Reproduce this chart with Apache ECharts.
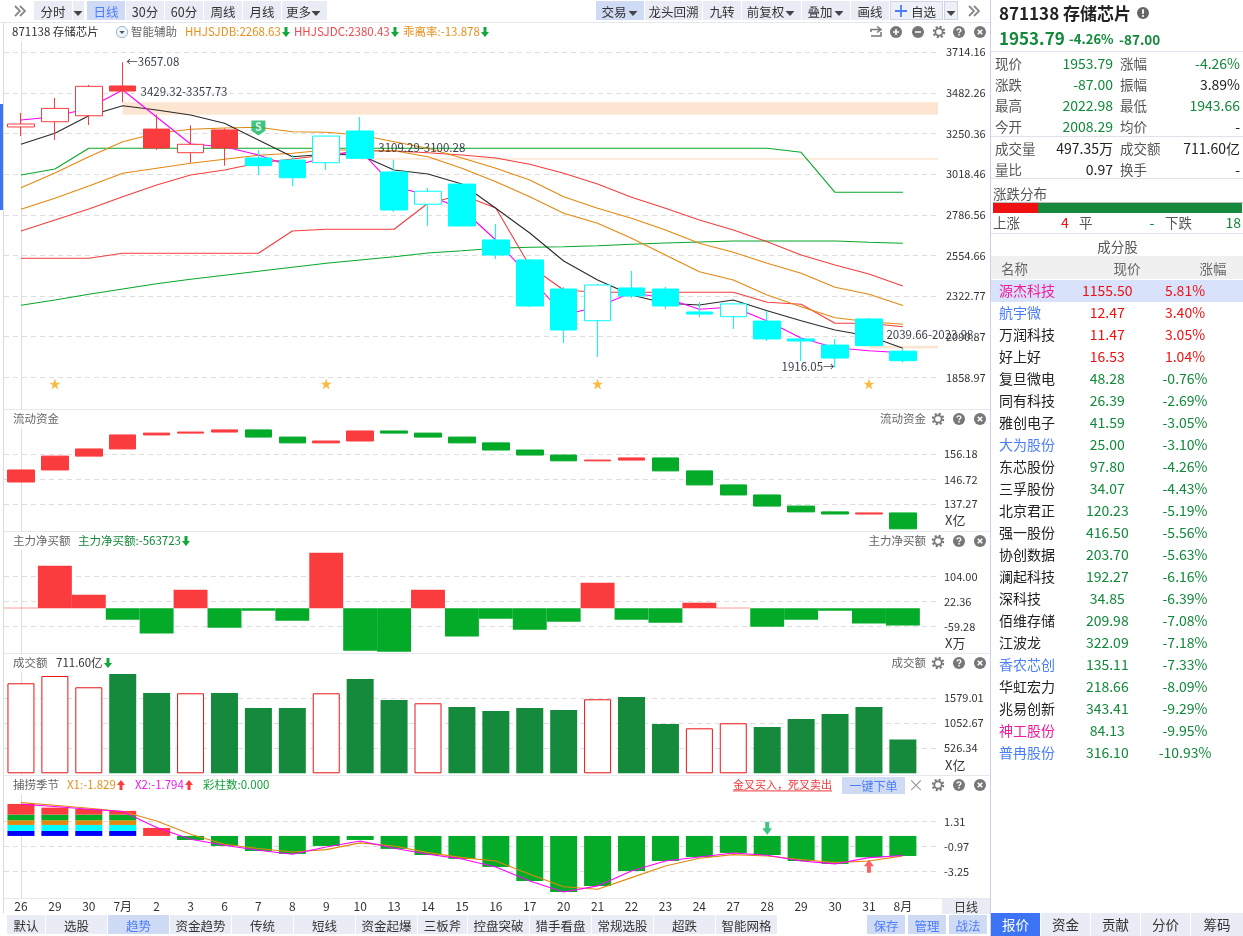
<!DOCTYPE html>
<html><head><meta charset="utf-8">
<script src="https://cdn.jsdelivr.net/npm/echarts@6/dist/echarts.min.js"></script>
<style>
html,body{margin:0;padding:0;background:#fff;width:1243px;height:936px;overflow:hidden;font-family:"Noto Sans CJK SC","Noto Sans",sans-serif}
#c{position:absolute;left:0;top:0;width:1243px;height:936px}
#ui{position:absolute;left:0;top:0;width:1243px;height:936px;pointer-events:none}
#ui div{position:absolute;white-space:nowrap;box-sizing:border-box}
#ui svg{vertical-align:-1px}
</style></head><body>
<div id="c"></div><div id="ui"></div>
<script>
// ---------- categories and tick labels ----------
const categories=['26','29','30','7月','2','3','6','7','8','9','10','13','14','15','16','17','20','21','22','23','24','27','28','29','30','31','8月'];
const priceTicks=[1858.97,2090.87,2322.77,2554.66,2786.56,3018.46,3250.36,3482.26,3714.16];
const flowTicks=[137.27,146.72,156.18];
const netBuyTicks=[-59.28,22.36,104.00];
const amountTicks=[526.34,1052.67,1579.01];
const seasonTicks=[-3.25,-0.97,1.31];
// ---------- candles ----------
const candleOpen=[3288,3318,3352,3522,3276,3141,3271,3111,3099,3084,3265,3031,2847,2962,2643,2529,2363,2182,2369,2363,2232,2205,2180,2078,2043,2192,2008.29];
const candleClose=[3305,3394,3520,3493,3168,3189,3168,3067,2998,3236,3109.29,2814,2921,2723,2557,2266,2129,2386,2323,2266,2220,2278,2078,2066,1969,2039.66,1953.79];
const candleLow=[3236,3214,3299,3429.32,3157,3084,3067,3014,2951,3042,3109.29,2803,2723,2723,2534,2260,2055,1975,2312,2249,2203,2135,2066,1952,1916.05,2039.66,1943.66];
const candleHigh=[3368,3453,3528,3657.08,3357.73,3297,3280,3156,3128,3236,3345,3100.28,2940,2962,2734,2534,2375,2392,2466,2375,2289,2278,2238,2087,2078,2198,2022.98];
const candleTone=['r','r','r','r','r','r','r','c','c','c','c','c','c','c','c','c','c','c','c','c','c','c','c','c','c','c','c'];
// ---------- main overlays ----------
const magentaLine=[3327.7,3346.6,3396.2,3499,3344.9,3190.7,3175.3,3127.9,3061.1,3118.2,3156.5,2947,2899.6,2819.7,2642.8,2431.6,2214.7,2262.1,2342,2311.7,2247.2,2260.3,2180.4,2083.4,2028,2010.9,1999.5];
const blackLine=[3189,3251.8,3352.3,3409.4,3384.8,3356.3,3308.9,3213.6,3118.2,3131.9,3127.9,3042.3,3019.5,2962.4,2823.7,2682.7,2522.9,2414.5,2328.8,2281.5,2271.8,2300.3,2239.2,2182.1,2129,2094.8,2024.6];
const greenTop=[3013.8,3048,3166.2,3166.2,3166.2,3166.2,3166.2,3166.2,3166.2,3166.2,3166.2,3166.2,3166.2,3166.2,3166.2,3166.2,3166.2,3166.2,3166.2,3166.2,3166.2,3166.2,3166.2,3143.4,2915.1,2915.1,2915.1];
const greenLow=[2270.1,2300.3,2332.8,2363.1,2393.4,2418.4,2441.3,2464.1,2486.9,2509.8,2528.6,2547.4,2568.6,2581.7,2595.4,2601.1,2604.5,2610.2,2618.2,2625.7,2631.4,2637.1,2637.1,2637.1,2637.1,2629.6,2623.9];
const redUpper=[2694.2,2756.9,2819.7,2889.9,2956.7,3013.8,3042.3,3082.3,3105.1,3127.9,3150.8,3150.8,3141.1,3127.9,3110.8,3074.9,3023.5,2962.4,2886.5,2823.7,2756.9,2699.9,2633,2557.2,2500,2448.7,2380.43];
const redStep=[2538.3,2538.3,2538.3,2566.8,2566.8,2566.8,2566.8,2566.8,2694.2,2703.9,2703.9,2703.9,2852.3,2899.6,2825.4,2494.4,2357.4,2344.2,2344.2,2344.2,2344.2,2344.2,2287.2,2275.8,2167.3,2167.3,2147.8];
const orangeUpper=[2941.3,3025.2,3118.2,3203.8,3251.8,3274.6,3282,3286,3260.9,3257.5,3242.1,3203.8,3166.2,3110.8,3052,2985.3,2889.9,2823.7,2766.6,2699.9,2623.9,2572.6,2509.8,2452.7,2372.8,2332.8,2268.63];
const orangeLower=[2818,2880.8,2951,3023.5,3052,3080.6,3103.4,3126.2,3137.7,3156.5,3156.5,3152.5,3118.2,3052,2975.6,2889.9,2795.2,2738.1,2652.5,2557.2,2461.8,2414.5,2328.8,2262,2199.3,2176.5,2161.6];
const gapBands=[[3,3429.32,3357.73],[10,3109.29,3100.28],[25,2039.66,2023.98]];
const starDays=[1,9,17,25];
// ---------- sub panels ----------
const flowStart=145.7;
const flowClose=[150.25,155.5,158.2,163.5,164.2,164.6,165.4,162.7,160.5,161.2,165,164.2,162.7,160.5,157.8,155.9,153.7,154.0,154.8,149.9,144.6,140.8,136.6,134.4,133.6,134,128];
const netBuy=[2.2,140.4,45,-37.3,-83.3,61.4,-63.6,-7.7,-40.6,183.1,-139.3,-142.6,61.4,-93.2,-34,-70.2,-43.9,84.4,-37.3,-47.2,18.6,2.2,-60.3,-37.3,-7.7,-50.4,-56.37];
const amount=[1895,2049,1811,2091,1691,1684,1691,1376,1376,1684,1986,1544,1474,1397,1312,1376,1333,1558,1607,1039,947,1053,975,1144,1249,1397,711.6];
const amountHollow=[1,1,1,0,0,1,0,0,0,1,0,0,1,0,0,0,0,1,0,0,1,1,0,0,0,0,0];
const seasonBlue=[0.46,0.46,0.46,0.46];
const seasonCyan=[0.55,0.55,0.55,0.55];
const seasonOrange=[0.43,0.43,0.43,0.43];
const seasonGreen=[0.52,0.52,0.52,0.52];
const seasonRed=[0.98,0.64,0.52,0.34,0.735];
const seasonNeg=[null,null,null,null,null,-0.37,-0.92,-1.38,-1.65,-0.92,-0.37,-1.19,-1.75,-2.11,-2.85,-4.14,-5.15,-4.6,-3.22,-2.30,-1.93,-1.56,-1.75,-2.30,-2.57,-1.96,-1.84];
const x1Line=[3.06,2.82,2.54,2.24,1.38,0.15,-0.77,-1.16,-1.47,-1.26,-0.64,-0.92,-1.53,-1.99,-2.30,-3.52,-4.66,-4.90,-3.83,-2.76,-2.05,-1.72,-1.84,-2.17,-2.45,-2.30,-1.829];
const x2Line=[2.91,2.70,2.45,2.24,0.77,-0.31,-0.86,-1.32,-1.68,-1.01,-0.46,-1.13,-1.68,-2.11,-2.85,-4.14,-5.15,-4.59,-3.22,-2.30,-1.93,-1.56,-1.78,-2.30,-2.57,-1.99,-1.794];
// ---------- constituent table ----------
const stockNames=['源杰科技','航宇微','万润科技','好上好','复旦微电','同有科技','雅创电子','大为股份','东芯股份','三孚股份','北京君正','强一股份','协创数据','澜起科技','深科技','佰维存储','江波龙','香农芯创','华虹宏力','兆易创新','神工股份','普冉股份'];
const stockPrices=['1155.50','12.47','11.47','16.53','48.28','26.39','41.59','25.00','97.80','34.07','120.23','416.50','203.70','192.27','34.85','209.98','322.09','135.11','218.66','343.41','84.13','316.10'];
const stockPcts=['5.81%','3.40%','3.05%','1.04%','-0.76%','-2.69%','-3.05%','-3.10%','-4.26%','-4.43%','-5.19%','-5.56%','-5.63%','-6.16%','-6.39%','-7.08%','-7.18%','-7.33%','-8.09%','-9.29%','-9.95%','-10.93%'];
const stockNameTone=['p','b','','','','','','b','','','','','','','','','','b','','','p','b'];

const RED='#fb3c3e',GRN='#03ab29',CY='#00ffff',FONT='"Noto Sans CJK SC","Noto Sans",sans-serif';
const panels=[
 {top:42,bottom:409,min:1678.1,max:3773,ticks:priceTicks,m:5,o:3},
 {top:429,bottom:531,min:127.17,max:165.75,ticks:flowTicks,m:3,o:3},
 {top:551,bottom:653,min:-147.1,max:188.6,ticks:netBuyTicks,m:3,o:3},
 {top:673,bottom:775,min:-36,max:2111.6,ticks:amountTicks,m:3,o:3},
 {top:795,bottom:898,min:-5.70,max:3.76,ticks:seasonTicks,m:3,o:3}];
const grid=[],xAxis=[],yAxis=[];
panels.forEach((p,i)=>{
 grid.push({left:4,width:915.84,top:p.top,height:p.bottom-p.top});
 xAxis.push({gridIndex:i,type:'category',data:categories,show:i===4,axisLine:{show:false},axisTick:{show:false},splitLine:{show:false},
   axisLabel:{show:i===4,color:'#333',fontSize:12,margin:2,fontFamily:FONT,interval:0}});
 yAxis.push({gridIndex:i,type:'value',min:p.min,max:p.max,show:false,splitLine:{show:false}});
});
panels.forEach((p,i)=>{
 grid.push({left:4,width:934,top:p.top,height:p.bottom-p.top});
 xAxis.push({gridIndex:5+i,type:'value',min:-0.5,max:27.035,show:false,splitLine:{show:false}});
 yAxis.push({gridIndex:5+i,type:'value',position:'right',offset:p.o,min:p.min,max:p.max,
   axisLine:{show:true,lineStyle:{color:'#dcdde2'}},
   axisTick:{show:false,customValues:p.ticks},
   axisLabel:{customValues:p.ticks,formatter:v=>v.toFixed(2),color:'#333',fontSize:11,margin:p.m,fontFamily:FONT,showMinLabel:true,showMaxLabel:true},
   splitLine:{show:true,lineStyle:{color:'#dedede',type:[5,4],width:1}}});
});
const ln=(name,data,color,xi=0)=>({name,type:'line',xAxisIndex:xi,yAxisIndex:xi,data,symbol:'none',z:2,animation:false,lineStyle:{color,width:1.1}});
const candles=candleOpen.map((o,i)=>{
 const c=candleClose[i],t=candleTone[i]==='r'?RED:CY,fill=c>o?'#fff':t;
 return {value:[o,c,candleLow[i],candleHigh[i]],itemStyle:{color:fill,color0:fill,borderColor:t,borderColor0:t,borderWidth:1}};
});
const note=(xv,yv,text,pos)=>({coord:[xv,yv],value:text,symbol:'circle',symbolSize:1,itemStyle:{color:'rgba(0,0,0,0)'},label:{show:true,formatter:text,position:pos||'right',distance:0,color:'#3a3f4a',fontSize:11.5,fontFamily:FONT}});
let prev=flowStart;
const flowData=flowClose.map(c=>{const d=[prev,c,Math.min(prev,c),Math.max(prev,c)];prev=c;return d;});
const starPath='path://M50 0L62 36H100L69 58L81 95L50 72L19 95L31 58L0 36H38Z';
const tagPath='path://M0 0H14V13L7 19L0 13Z';
const downPath='path://M3 0H7V6H10L5 12L0 6H3Z';
const upPath='path://M5 0L10 6H7V12H3V6H0Z';
const bar=(name,data,color)=>({name,type:'bar',xAxisIndex:4,yAxisIndex:4,stack:'s',barWidth:27,data,itemStyle:{color},z:1,animation:false});
const series=[
 {name:'bands',type:'line',xAxisIndex:5,yAxisIndex:5,data:[],z:0,silent:true,
  markArea:{silent:true,itemStyle:{color:'#fde6d1'},data:gapBands.map(b=>[{xAxis:b[0],yAxis:b[1]},{xAxis:27.035,yAxis:b[2]}])}},
 ln('绿上',greenTop,'#08a82a'),ln('绿下',greenLow,'#08a82a'),ln('红上',redUpper,'#f43e3e'),ln('红阶',redStep,'#f43e3e'),
 ln('橙上',orangeUpper,'#e2880f'),ln('橙下',orangeLower,'#e2880f'),ln('黑',blackLine,'#2a2a2a'),ln('紫',magentaLine,'#ff00ff'),
 {name:'K',type:'candlestick',xAxisIndex:0,yAxisIndex:0,data:candles,barWidth:27,z:3,animation:false},
 {name:'星',type:'scatter',xAxisIndex:0,yAxisIndex:0,symbol:starPath,symbolSize:11,itemStyle:{color:'#f6a90f'},z:4,animation:false,
  data:starDays.map(d=>[d,1821])},
 {name:'S',type:'scatter',xAxisIndex:0,yAxisIndex:0,symbol:tagPath,symbolSize:[14,15],itemStyle:{color:'#10b560'},z:4,animation:false,
  data:[[7,3282]],label:{show:true,formatter:'S',color:'#fff',fontSize:11,fontWeight:'bold',position:'inside',offset:[0,-1]}},
 {name:'notes',type:'scatter',xAxisIndex:5,yAxisIndex:5,data:[],z:6,silent:true,
  markPoint:{silent:true,z:6,data:[note(3.09,3658.8,'←3657.08'),note(3.51,3487,'3429.32-3357.73'),note(10.52,3168,'3109.29-3100.28'),note(25.5,2102,'2039.66-2023.98'),note(24,1918,'1916.05→','left')]}},
 {name:'流动资金',type:'candlestick',xAxisIndex:1,yAxisIndex:1,data:flowData,barWidth:27,animation:false,
  itemStyle:{color:RED,color0:GRN,borderColor:RED,borderColor0:GRN,borderWidth:1}},
 {name:'主力净买额',type:'bar',xAxisIndex:2,yAxisIndex:2,barWidth:'100%',data:netBuy,animation:false,
  itemStyle:{color:p=>p.value>=0?RED:GRN}},
 {name:'成交额',type:'bar',xAxisIndex:3,yAxisIndex:3,barWidth:27,animation:false,
  data:amount.map((v,i)=>({value:v,itemStyle:amountHollow[i]?{color:'#fff',borderColor:'#e81414',borderWidth:1}:{color:'#158a3c'}}))},
 bar('蓝',seasonBlue,'#0000ff'),bar('青',seasonCyan,CY),bar('橙',seasonOrange,'#e2880f'),bar('绿',seasonGreen,GRN),bar('红',seasonRed,RED),bar('负',seasonNeg,GRN),
 ln('X1',x1Line,'#e2880f',4),ln('X2',x2Line,'#ff00ff',4),
 {name:'下箭头',type:'scatter',xAxisIndex:4,yAxisIndex:4,symbol:downPath,symbolSize:[10,13],itemStyle:{color:'#10b560'},data:[[22,0.7]],z:4,animation:false},
 {name:'上箭头',type:'scatter',xAxisIndex:4,yAxisIndex:4,symbol:upPath,symbolSize:[10,13],itemStyle:{color:RED},data:[[25,-2.78]],z:4,animation:false}
];
const chart=echarts.init(document.getElementById('c'),null,{renderer:'canvas'});
chart.setOption({animation:false,backgroundColor:'transparent',textStyle:{fontFamily:FONT},grid,xAxis,yAxis,series});

// ---------- page chrome ----------
const ui=document.getElementById('ui');
function box(x,y,w,h,bg,extra){const d=document.createElement('div');d.style.cssText=`left:${x}px;top:${y}px;width:${w}px;height:${h}px;background:${bg};${extra||''}`;ui.appendChild(d);return d;}
function T(x,y,html,color,size,extra,al){const d=document.createElement('div');const tx=al==='r'?'-100%':al==='c'?'-50%':'0';
 d.style.cssText=`left:${x}px;top:${y}px;transform:translate(${tx},-50%);color:${color||'#333'};font-size:${size||12}px;line-height:1.2;${extra||''}`;d.innerHTML=html;ui.appendChild(d);return d;}
const tri='<svg width="9" height="5"><path d="M0 0H9L4.5 5Z" fill="#444"/></svg>';
function btn(x0,x1,label,active,caret,y0,y1,blue){const a=y0===undefined?1:y0,b=y1===undefined?20:y1;
 box(x0,a,x1-x0,b-a,active?'#cfdaf4':'#e9ecf5');
 const c=blue||active&&!caret?'#4a7dfc':'#333';
 T((x0+x1)/2-(caret?6:0),(a+b)/2,label,c,12.5,'',"c");
 if(caret)T(x1-11,(a+b)/2,tri,'#333',10,'','c');}
const dn=c=>`<svg width="8" height="10" style="margin-left:1px"><path d="M2.5 0H5.5V5H8L4 10L0 5H2.5Z" fill="${c||'#10a83a'}"/></svg>`;
const up=c=>`<svg width="8" height="10" style="margin-left:1px"><path d="M4 0L8 5H5.5V10H2.5V5H0Z" fill="${c||'#fb3c3e'}"/></svg>`;
const ICON={
 gear:'<svg width="13" height="13" viewBox="0 0 14 14"><circle cx="7" cy="7" r="5.6" fill="none" stroke="#777" stroke-width="2.4" stroke-dasharray="2.2 2.2"/><circle cx="7" cy="7" r="3.9" fill="none" stroke="#777" stroke-width="1.8"/></svg>',
 help:'<svg width="13" height="13" viewBox="0 0 14 14"><circle cx="7" cy="7" r="6.5" fill="#777"/><path d="M5 5.4C5 3 9 3 9 5.4C9 6.8 7 6.8 7 8.3" fill="none" stroke="#fff" stroke-width="1.5"/><rect x="6.2" y="9.2" width="1.6" height="1.6" fill="#fff"/></svg>',
 close:'<svg width="13" height="13" viewBox="0 0 14 14"><circle cx="7" cy="7" r="6.5" fill="#777"/><path d="M4.6 4.6L9.4 9.4M9.4 4.6L4.6 9.4" stroke="#fff" stroke-width="1.7"/></svg>',
 plus:'<svg width="13" height="13" viewBox="0 0 14 14"><circle cx="7" cy="7" r="6.5" fill="#777"/><path d="M3.8 7H10.2M7 3.8V10.2" stroke="#fff" stroke-width="1.7"/></svg>',
 minus:'<svg width="13" height="13" viewBox="0 0 14 14"><circle cx="7" cy="7" r="6.5" fill="#777"/><path d="M3.8 7H10.2" stroke="#fff" stroke-width="1.8"/></svg>',
 back:'<svg width="14" height="14"><path d="M12 7V11H2M8 1.5L12 4.5L8 7.5M12 4.5H2V7" fill="none" stroke="#777" stroke-width="1.5"/></svg>',
 dbl:'<svg width="12" height="12"><path d="M1 1L6 6L1 11M6 1L11 6L6 11" fill="none" stroke="#888" stroke-width="1.8"/></svg>'};
const ic=(x,y,k)=>T(x,y,ICON[k],'#777',12,'line-height:0','c');
// top toolbar
ic(20,10.5,'dbl');
btn(34,72,'分时');box(73,1,11,19,'#e9ecf5');T(78,10.5,tri,'#333',10,'','c');
btn(87,125,'日线',true);btn(126,164,'30分');btn(165,203,'60分');btn(204,242,'周线');btn(243,281,'月线');btn(282,327,'更多',false,true);
btn(596,644,'交易',true,true);btn(645,702,'龙头回溯');btn(703,741,'九转');btn(742,801,'前复权',false,true);btn(802,850,'叠加',false,true);btn(851,889,'画线');
box(890,1,53,19,'#eef0f8','border:1px solid #cfd4e6');T(901,10.5,'<svg width="12" height="12"><path d="M0 6H12M6 0V12" stroke="#4a7dfc" stroke-width="1.8"/></svg>','#333',12,'line-height:0','c');T(911,10.5,'自选','#333',12.5);
box(944,1,14,19,'#eef0f8','border:1px solid #cfd4e6');T(951,10.5,tri,'#333',10,'','c');ic(974,10.5,'dbl');
box(0,22,990,1,'#e6e8ee');
// left rail and panel rules
box(3,23,1,890,'#d9dbe2');box(0,104,3,106,'#3b74f5');
[409,531,653,775,898].forEach(y=>box(4,y,986,1,'#e6e8ee'));
box(990,0,1,936,'#c9d0e6');
// indicator titles
T(12,32,'871138 存储芯片','#333',11.5);
T(122,32,'<svg width="13" height="13"><circle cx="6.5" cy="6.5" r="5.7" fill="#eef4fb" stroke="#9db7cf"/><path d="M3.8 5.4H9.2L6.5 8.6Z" fill="#555"/></svg>','#555',12,'line-height:0','c');
T(131,32,'智能辅助','#666',11.5);
T(185,32,'HHJSJDB:2268.63'+dn(),'#e8901c',11.5);T(294,32,'HHJSJDC:2380.43'+dn(),'#f0494d',11.5);T(403,32,'乖离率:-13.878'+dn(),'#e8901c',11.5);
[['back',876],['plus',896],['minus',917.5],['gear',938.5],['help',959],['close',980]].forEach(a=>ic(a[1],32,a[0]));
[419,541,663,785].forEach(y=>{ic(938,y,'gear');ic(958.5,y,'help');ic(979.5,y,'close');});
T(13,419,'流动资金','#666',11.5);T(926,419,'流动资金','#666',11.5,'','r');
T(13,541,'主力净买额','#666',11.5);T(78,541,'主力净买额:-563723'+dn(),'#11893a',11.5);T(926,541,'主力净买额','#666',11.5,'','r');
T(13,663,'成交额','#666',11.5);T(56,663,'711.60亿'+dn(),'#333',11.5);T(926,663,'成交额','#666',11.5,'','r');
T(13,785,'捕捞季节','#666',11.5);T(67,785,'X1:-1.829'+up(),'#e8901c',11.5);T(135,785,'X2:-1.794'+up(),'#f01af0',11.5);T(203,785,'彩柱数:0.000','#11a03a',11.5);
T(733,785,'金叉买入，死叉卖出','#f0383a',11,'text-decoration:underline');
box(842,777,63,17,'#cfdaf4');T(873.5,785.5,'一键下单','#4a7dfc',12,'','c');T(916,785,'×','#999',16,'','c');
T(945,520,'X亿','#333',13);T(945,643,'X万','#333',13);T(945,765,'X亿','#333',13);
box(942,899,48,15,'#e9ecf5');T(966,906.5,'日线','#333',12,'','c');
// bottom tabs
[[7,45,'默认'],[46,107,'选股'],[108,169,'趋势',1],[170,231,'资金趋势'],[232,293,'传统'],[294,355,'短线'],[356,417,'资金起爆'],[418,467,'三板斧'],[468,529,'控盘突破'],[530,591,'猎手看盘'],[592,653,'常规选股'],[654,715,'超跌'],[716,777,'智能网格']].forEach(a=>btn(a[0],a[1],a[2],!!a[3],false,915,934));
[[867,905,'保存'],[908,946,'管理'],[949,987,'战法']].forEach(a=>btn(a[0],a[1],a[2],true,false,915,934));
// right column
const RG='#11893a',LAB='#555';
T(999,13,'871138 存储芯片','#222',17,'font-weight:700');
T(1143,13,'<svg width="13" height="13"><circle cx="6.5" cy="6.5" r="6" fill="#666"/><rect x="5.6" y="2.8" width="1.8" height="4.6" fill="#fff"/><rect x="5.6" y="8.6" width="1.8" height="1.8" fill="#fff"/></svg>','#666',12,'line-height:0','c');
T(999,38,'1953.79',RG,17,'font-weight:700');T(1069,39,'-4.26%',RG,13,'font-weight:700');T(1119,39,'-87.00',RG,13.5,'font-weight:700');
[51,136,178,233].forEach(y=>box(991,y,252,1,'#dfe2ea'));
const rows=[[62.5,'现价','1953.79',RG,'涨幅','-4.26%',RG],[84,'涨跌','-87.00',RG,'振幅','3.89%','#222'],[105,'最高','2022.98',RG,'最低','1943.66',RG],[126,'今开','2008.29',RG,'均价','-','#222'],[148,'成交量','497.35万','#222','成交额','711.60亿','#222'],[169,'量比','0.97','#222','换手','-','#222']];
rows.forEach(r=>{T(995,r[0],r[1],LAB,13.5);T(1113,r[0],r[2],r[3],14,'','r');T(1120,r[0],r[4],LAB,13.5);T(1240,r[0],r[5],r[6],14,'','r');});
T(993,192.5,'涨跌分布',LAB,13.5);box(993,202,250,1,'#bbb');box(993,203,45,10,'#ee1111');box(1038,203,204,10,'#158a3c');
T(993,221.5,'上涨',LAB,13.5);T(1065,221.5,'4','#f01010',14,'','c');T(1079,221.5,'平',LAB,13.5);T(1152,221.5,'-',RG,14,'','c');T(1165,221.5,'下跌',LAB,13.5);T(1241,221.5,'18',RG,14,'','r');
T(1117.5,245.5,'成分股',LAB,13.5,'','c');
box(991,256,252,23,'#f0f0f0');T(1001,267.5,'名称','#666',13.5);T(1127,267.5,'现价','#666',13.5,'','c');T(1213,267.5,'涨幅','#666',13.5,'','c');
box(991,279.5,252,22,'#d8e2fb');
stockNames.forEach((n,i)=>{const y=290+22*i,pos=!stockPcts[i].startsWith('-'),c=pos?'#f01010':RG,t=stockNameTone[i];
 T(999,y,n,t==='p'?'#f31a9a':t==='b'?'#4a7dfc':'#222',14);T(1107.3,y,stockPrices[i],c,14,'','c');T(1185,y,stockPcts[i],c,14,'','c');});
[[991,1040,'报价',1],[1041,1090,'资金'],[1091,1140,'贡献'],[1141,1190,'分价'],[1191,1243,'筹码']].forEach(a=>{box(a[0],913,a[1]-a[0],23,a[3]?'#3c74f5':'#e9ecf5');T((a[0]+a[1])/2,924,a[2],a[3]?'#fff':'#333',13.5,'','c');});
</script>
</body></html>
